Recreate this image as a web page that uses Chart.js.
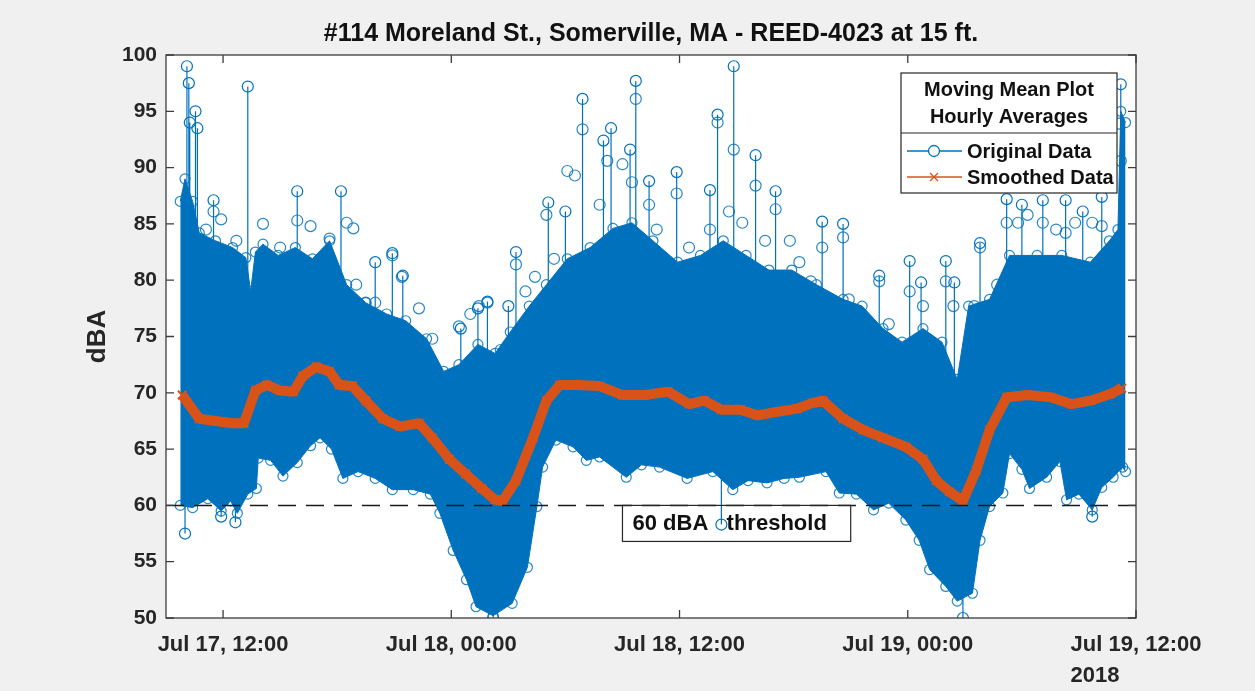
<!DOCTYPE html>
<html>
<head>
<meta charset="utf-8">
<script src="https://cdn.jsdelivr.net/npm/chart.js@4.4.1/dist/chart.umd.min.js"></script>
<style>
  html, body { margin: 0; padding: 0; background: #f0f0f0; }
  canvas { display: block; }
</style>
</head>
<body>
<canvas id="myChart" width="1255" height="691"></canvas>
<script>
// time axis: hours since Jul 17 00:00
const xMin = 9, xMax = 60;
const xTickValues = [12, 24, 36, 48, 60];
const xTickLabels = ['Jul 17, 12:00', 'Jul 18, 00:00', 'Jul 18, 12:00', 'Jul 19, 00:00', 'Jul 19, 12:00'];
const yearLabel = '2018';
const yMin = 50, yMax = 100, yStep = 5;

// top edge of the dense original data band
const upperHours = [9.75, 10.0, 10.4, 10.75, 11.6, 12.5, 13.2, 13.45, 13.7, 14.1, 14.9, 15.8, 16.7, 17.6, 18.5, 19.5, 20.6, 21.6, 22.7, 23.6, 24.4, 25.4, 26.3, 27.1, 28.1, 29.0, 30.1, 31.3, 32.5, 33.5, 34.6, 35.9, 37.1, 38.3, 39.5, 40.7, 41.9, 43.2, 44.6, 45.6, 46.7, 47.7, 48.8, 49.8, 50.6, 51.2, 52.3, 53.35, 54.8, 56.1, 57.6, 58.6, 59.05, 59.2, 59.45];
const upperDb = [87.0, 89.0, 87.0, 84.2, 83.5, 82.9, 82.0, 79.0, 82.5, 83.2, 82.2, 82.9, 81.9, 83.5, 79.6, 78.0, 77.0, 76.4, 74.8, 71.9, 72.5, 74.3, 73.5, 75.4, 77.7, 79.6, 81.9, 82.9, 84.6, 85.1, 83.5, 81.6, 82.2, 83.5, 82.2, 80.9, 80.9, 79.6, 78.3, 77.7, 75.7, 74.5, 75.7, 74.5, 71.2, 77.7, 78.3, 82.2, 82.2, 82.2, 81.6, 83.5, 84.5, 95.0, 94.0];

// bottom edge of the dense original data band
const lowerHours = [9.75, 10.4, 11.2, 11.9, 12.4, 12.75, 13.3, 13.75, 13.85, 14.5, 15.15, 15.9, 16.6, 17.1, 17.7, 18.3, 19.1, 20.0, 20.9, 22.0, 22.9, 23.4, 24.1, 24.8, 25.3, 26.2, 27.2, 28.0, 28.5, 28.8, 29.5, 30.4, 31.1, 31.8, 33.2, 34.0, 34.95, 36.4, 37.75, 38.8, 39.6, 40.6, 41.5, 42.3, 43.7, 44.4, 45.3, 46.2, 47.0, 47.9, 48.6, 49.15, 50.0, 50.6, 51.4, 51.8, 52.3, 53.0, 53.35, 54.0, 54.4, 55.3, 56.0, 56.35, 57.0, 57.7, 58.2, 58.8, 59.3, 59.45];
const lowerDb = [60.0, 59.8, 60.6, 59.5, 60.4, 59.3, 61.0, 61.5, 64.2, 64.0, 62.6, 63.8, 65.3, 66.0, 65.0, 62.4, 63.0, 62.4, 61.4, 61.4, 61.0, 59.3, 56.0, 53.4, 51.0, 50.2, 51.3, 54.5, 59.9, 63.4, 65.8, 65.2, 64.0, 64.3, 62.5, 63.6, 63.4, 62.4, 63.0, 61.4, 62.2, 62.0, 62.4, 62.5, 63.0, 61.1, 61.0, 59.6, 60.2, 58.7, 56.9, 54.3, 52.8, 51.5, 52.2, 56.9, 59.9, 61.1, 64.6, 63.2, 61.5, 62.5, 63.9, 60.5, 61.0, 59.6, 61.6, 62.5, 63.4, 63.0];

// scattered samples just above the band
const haloHours = [11.1, 11.5, 11.9, 12.7, 14.1, 15.0, 15.9, 16.6, 17.6, 18.5, 18.85, 19.0, 19.5, 20.0, 20.9, 21.4, 22.3, 23.0, 24.4, 25.0, 25.45, 25.9, 26.6, 27.4, 27.9, 28.4, 29.0, 29.4, 30.1, 30.5, 30.9, 31.8, 32.2, 33.0, 33.5, 33.7, 34.4, 34.8, 35.85, 36.5, 37.6, 38.0, 38.6, 38.85, 39.3, 40.0, 40.5, 41.05, 41.8, 42.3, 42.9, 43.5, 44.6, 44.9, 45.9, 46.5, 47.0, 48.1, 48.8, 50.0, 50.4, 51.5, 51.8, 52.7, 53.2, 53.8, 54.3, 55.1, 55.8, 56.3, 56.8, 57.7, 58.2, 59.1, 59.2];
const haloDb = [84.5, 86.1, 85.4, 83.5, 85.0, 82.9, 85.3, 84.8, 83.7, 85.1, 84.6, 79.6, 78.0, 78.0, 82.2, 80.3, 77.5, 74.8, 75.9, 77.0, 77.7, 78.0, 73.8, 81.4, 79.0, 80.3, 85.8, 81.9, 89.7, 89.3, 93.4, 86.7, 90.6, 90.3, 88.7, 96.1, 86.7, 84.5, 87.7, 82.9, 84.5, 94.0, 86.1, 91.6, 85.1, 88.4, 83.5, 86.3, 83.5, 81.6, 79.9, 82.9, 83.8, 78.3, 76.1, 79.9, 76.1, 79.0, 77.7, 79.9, 77.7, 77.7, 82.9, 79.6, 85.1, 85.1, 85.8, 85.1, 84.5, 84.2, 85.1, 85.1, 84.8, 93.9, 90.6];

// isolated loud samples above the band
const spikeHours = [10.1, 10.2, 10.25, 10.55, 10.65, 11.5, 13.3, 15.9, 18.2, 20.0, 20.9, 21.45, 24.5, 25.4, 25.9, 27.0, 27.4, 29.1, 30.0, 30.9, 32.0, 32.4, 33.4, 33.7, 34.4, 35.85, 37.6, 38.0, 38.85, 40.0, 41.05, 43.5, 44.6, 46.5, 48.1, 48.7, 50.0, 50.45, 51.8, 53.2, 54.0, 55.1, 56.3, 57.2, 58.2, 59.2];
const spikePeaks = [99.0, 97.5, 94.0, 95.0, 93.5, 87.1, 97.2, 87.9, 87.9, 81.6, 82.4, 80.4, 75.7, 77.5, 78.1, 77.7, 82.5, 86.9, 86.1, 96.1, 92.4, 93.5, 91.6, 97.7, 88.8, 89.6, 88.0, 94.7, 99.0, 91.1, 87.9, 85.2, 85.0, 80.4, 81.7, 79.8, 81.7, 79.8, 83.3, 87.2, 86.7, 87.1, 87.1, 86.1, 87.4, 97.4];
const spikeBase = 70;

// isolated quiet samples below the band
const dipHours = [10.0, 11.9, 12.65, 26.2, 38.2, 50.9, 57.7];
const dipLows = [57.5, 59.0, 58.5, 50.0, 58.3, 50.0, 59.0];
const dipBase = 64;

// hourly moving mean
const smoothHours = [9.85, 10.75, 11.6, 12.5, 13.1, 13.7, 14.3, 15.0, 15.7, 16.2, 16.9, 17.6, 18.1, 18.8, 19.5, 20.4, 21.3, 22.3, 23.0, 23.9, 24.75, 25.6, 26.3, 26.7, 27.4, 28.3, 29.0, 29.7, 30.6, 31.8, 33.0, 34.2, 35.4, 36.5, 37.3, 38.2, 39.2, 40.1, 41.1, 42.2, 43.0, 43.55, 44.6, 45.65, 46.7, 47.9, 48.8, 49.5, 50.2, 50.9, 51.6, 52.3, 53.2, 54.3, 55.5, 56.6, 57.6, 58.65, 59.25];
const smoothDb = [69.8, 67.7, 67.5, 67.3, 67.3, 70.2, 70.7, 70.2, 70.1, 71.5, 72.3, 71.9, 70.7, 70.6, 69.3, 67.7, 67.0, 67.3, 66.0, 64.1, 62.8, 61.5, 60.5, 60.4, 62.2, 66.0, 69.3, 70.7, 70.7, 70.6, 69.8, 69.8, 70.1, 69.0, 69.3, 68.5, 68.5, 68.0, 68.3, 68.6, 69.1, 69.3, 67.7, 66.7, 66.0, 65.2, 64.1, 62.2, 61.2, 60.4, 63.1, 66.7, 69.6, 69.8, 69.6, 69.0, 69.3, 69.9, 70.4];

const thresholdDb = 60;
const titleText = '#114 Moreland St., Somerville, MA - REED-4023 at 15 ft.';
const legendTitle = ['Moving Mean Plot', 'Hourly Averages'];
const seriesNames = ['Original Data', 'Smoothed Data'];
const thresholdText = '60 dBA   threshold';
const thresholdBoxHours = [33.0, 45.0];
const thresholdBoxBottom = 56.8;

const FONT = '"Liberation Sans", Arial, Helvetica, sans-serif';
const BLUE = '#0072BD';
const ORANGE = '#D95319';
const INK = '#262626';

const toPts = (xs, ys) => xs.map((x, i) => ({ x: x, y: ys[i] }));

const stemPts = [];
spikeHours.forEach((h, i) => {
  stemPts.push({ x: h, y: spikeBase }, { x: h, y: spikePeaks[i], tip: true }, { x: h, y: null });
});
dipHours.forEach((h, i) => {
  stemPts.push({ x: h, y: dipBase }, { x: h, y: dipLows[i], tip: true }, { x: h, y: null });
});

const paperPlugin = {
  id: 'paper',
  beforeDraw(chart) {
    const { ctx, chartArea: a } = chart;
    ctx.save();
    ctx.fillStyle = '#f0f0f0';
    ctx.fillRect(0, 0, chart.width, chart.height);
    ctx.fillStyle = '#ffffff';
    ctx.fillRect(a.left, a.top, a.right - a.left, a.bottom - a.top);
    ctx.restore();
  },
  afterDatasetsDraw(chart) {
    const { ctx, chartArea: a, scales: { x, y } } = chart;
    ctx.save();
    ctx.strokeStyle = '#3c3c3c';
    ctx.lineWidth = 1.3;
    ctx.strokeRect(a.left, a.top, a.right - a.left, a.bottom - a.top);
    const tl = 8;
    ctx.beginPath();
    y.ticks.forEach(t => {
      const py = y.getPixelForValue(t.value);
      ctx.moveTo(a.left, py); ctx.lineTo(a.left + tl, py);
      ctx.moveTo(a.right, py); ctx.lineTo(a.right - tl, py);
    });
    x.ticks.forEach(t => {
      const px = x.getPixelForValue(t.value);
      ctx.moveTo(px, a.bottom); ctx.lineTo(px, a.bottom - tl);
      ctx.moveTo(px, a.top); ctx.lineTo(px, a.top + tl);
    });
    ctx.stroke();
    ctx.restore();
  },
  afterDraw(chart) {
    const { ctx, chartArea: a, scales: { x, y } } = chart;
    ctx.save();

    // threshold label box
    const bx0 = x.getPixelForValue(thresholdBoxHours[0]);
    const bx1 = x.getPixelForValue(thresholdBoxHours[1]);
    const by0 = y.getPixelForValue(thresholdDb);
    const by1 = y.getPixelForValue(thresholdBoxBottom);
    ctx.strokeStyle = INK;
    ctx.lineWidth = 1.2;
    ctx.strokeRect(bx0, by0, bx1 - bx0, by1 - by0);
    ctx.fillStyle = '#111';
    ctx.font = 'bold 22px ' + FONT;
    ctx.textBaseline = 'middle';
    ctx.textAlign = 'left';
    ctx.fillText(thresholdText, bx0 + 10, (by0 + by1) / 2 + 1);

    // legend
    const lw = 216, lh = 120;
    const lx = a.right - 19 - lw, ly = a.top + 18;
    ctx.fillStyle = '#ffffff';
    ctx.fillRect(lx, ly, lw, lh);
    ctx.strokeStyle = INK;
    ctx.strokeRect(lx, ly, lw, lh);
    ctx.beginPath();
    ctx.moveTo(lx, ly + 60); ctx.lineTo(lx + lw, ly + 60);
    ctx.stroke();
    ctx.fillStyle = '#111';
    ctx.font = 'bold 20px ' + FONT;
    ctx.textAlign = 'center';
    ctx.fillText(legendTitle[0], lx + lw / 2, ly + 17);
    ctx.fillText(legendTitle[1], lx + lw / 2, ly + 44);
    ctx.textAlign = 'left';
    const rows = [ly + 78, ly + 104];
    // original data sample
    ctx.strokeStyle = BLUE; ctx.lineWidth = 1.3;
    ctx.beginPath(); ctx.moveTo(lx + 6, rows[0]); ctx.lineTo(lx + 61, rows[0]); ctx.stroke();
    ctx.fillStyle = '#ffffff';
    ctx.beginPath(); ctx.arc(lx + 33, rows[0], 5.5, 0, Math.PI * 2); ctx.fill(); ctx.stroke();
    // smoothed data sample
    ctx.strokeStyle = ORANGE;
    ctx.beginPath(); ctx.moveTo(lx + 6, rows[1]); ctx.lineTo(lx + 61, rows[1]); ctx.stroke();
    ctx.beginPath();
    ctx.moveTo(lx + 29, rows[1] - 4); ctx.lineTo(lx + 37, rows[1] + 4);
    ctx.moveTo(lx + 37, rows[1] - 4); ctx.lineTo(lx + 29, rows[1] + 4);
    ctx.stroke();
    ctx.fillStyle = '#111';
    ctx.fillText(seriesNames[0], lx + 66, rows[0] + 1);
    ctx.fillText(seriesNames[1], lx + 66, rows[1] + 1);

    // year under the last date tick
    ctx.font = 'bold 22px ' + FONT;
    ctx.fillStyle = INK;
    const lastLabel = xTickLabels[xTickLabels.length - 1];
    const lastX = x.getPixelForValue(xTickValues[xTickValues.length - 1]);
    const w = ctx.measureText(lastLabel).width;
    ctx.textBaseline = 'alphabetic';
    ctx.fillText(yearLabel, lastX - w / 2, 682);
    ctx.restore();
  }
};

const bandLine = {
  borderColor: BLUE,
  borderWidth: 1,
  pointRadius: 5,
  pointStyle: 'circle',
  pointBorderColor: 'rgba(0,114,189,0.85)',
  pointBackgroundColor: 'rgba(0,0,0,0)',
  pointBorderWidth: 1.2,
  tension: 0
};

const config = {
  type: 'line',
  data: {
    datasets: [
      {
        label: 'threshold',
        data: [{ x: xMin, y: thresholdDb }, { x: xMax, y: thresholdDb }],
        borderColor: '#1a1a1a',
        borderWidth: 1.5,
        borderDash: [18, 10],
        pointRadius: 0,
        fill: false
      },
      {
        label: seriesNames[1],
        data: toPts(smoothHours, smoothDb),
        borderColor: ORANGE,
        borderWidth: 10,
        borderJoinStyle: 'round',
        pointStyle: 'crossRot',
        pointRadius: 6,
        pointBorderWidth: 2,
        pointBorderColor: ORANGE,
        tension: 0,
        fill: false
      },
      {
        label: 'stems',
        data: stemPts,
        borderColor: BLUE,
        borderWidth: 1.2,
        spanGaps: false,
        pointRadius: c => (c.raw && c.raw.tip ? 5.5 : 0),
        pointStyle: 'circle',
        pointBorderColor: BLUE,
        pointBackgroundColor: 'rgba(0,0,0,0)',
        pointBorderWidth: 1.2,
        fill: false
      },
      {
        label: 'halo',
        data: toPts(haloHours, haloDb),
        showLine: false,
        pointRadius: 5.5,
        pointStyle: 'circle',
        pointBorderColor: 'rgba(0,114,189,0.85)',
        pointBackgroundColor: 'rgba(0,0,0,0)',
        pointBorderWidth: 1.2,
        fill: false
      },
      Object.assign({ label: seriesNames[0], data: toPts(upperHours, upperDb), fill: '+1', backgroundColor: BLUE }, bandLine),
      Object.assign({ label: 'lower', data: toPts(lowerHours, lowerDb), fill: false }, bandLine)
    ]
  },
  options: {
    responsive: false,
    animation: false,
    layout: { padding: { left: 0, right: 119, top: 0, bottom: 0 } },
    plugins: {
      legend: { display: false },
      tooltip: { enabled: false },
      title: {
        display: true,
        text: titleText,
        color: '#111',
        fullSize: false,
        font: { family: FONT, size: 25, weight: 'bold' },
        padding: { top: 19, bottom: 6 }
      }
    },
    scales: {
      x: {
        type: 'linear',
        min: xMin,
        max: xMax,
        afterBuildTicks: s => { s.ticks = xTickValues.map(v => ({ value: v })); },
        afterFit: s => { s.height = 73; },
        grid: { display: false, drawTicks: false },
        border: { display: false },
        ticks: {
          autoSkip: false,
          maxRotation: 0,
          padding: 14,
          color: INK,
          font: { family: FONT, size: 22, weight: 'bold' },
          callback: v => xTickLabels[xTickValues.indexOf(v)]
        }
      },
      y: {
        min: yMin,
        max: yMax,
        afterFit: s => { s.width = 166; },
        grid: { display: false, drawTicks: false },
        border: { display: false },
        ticks: {
          stepSize: yStep,
          padding: 9,
          color: INK,
          font: { family: FONT, size: 21, weight: 'bold' }
        },
        title: {
          display: true,
          text: 'dBA',
          color: INK,
          font: { family: FONT, size: 26, weight: 'bold' },
          padding: { top: 82, bottom: 0 }
        }
      }
    }
  },
  plugins: [paperPlugin]
};

const ctx = document.getElementById('myChart').getContext('2d');
const myChart = new Chart(ctx, config);
</script>
</body>
</html>
